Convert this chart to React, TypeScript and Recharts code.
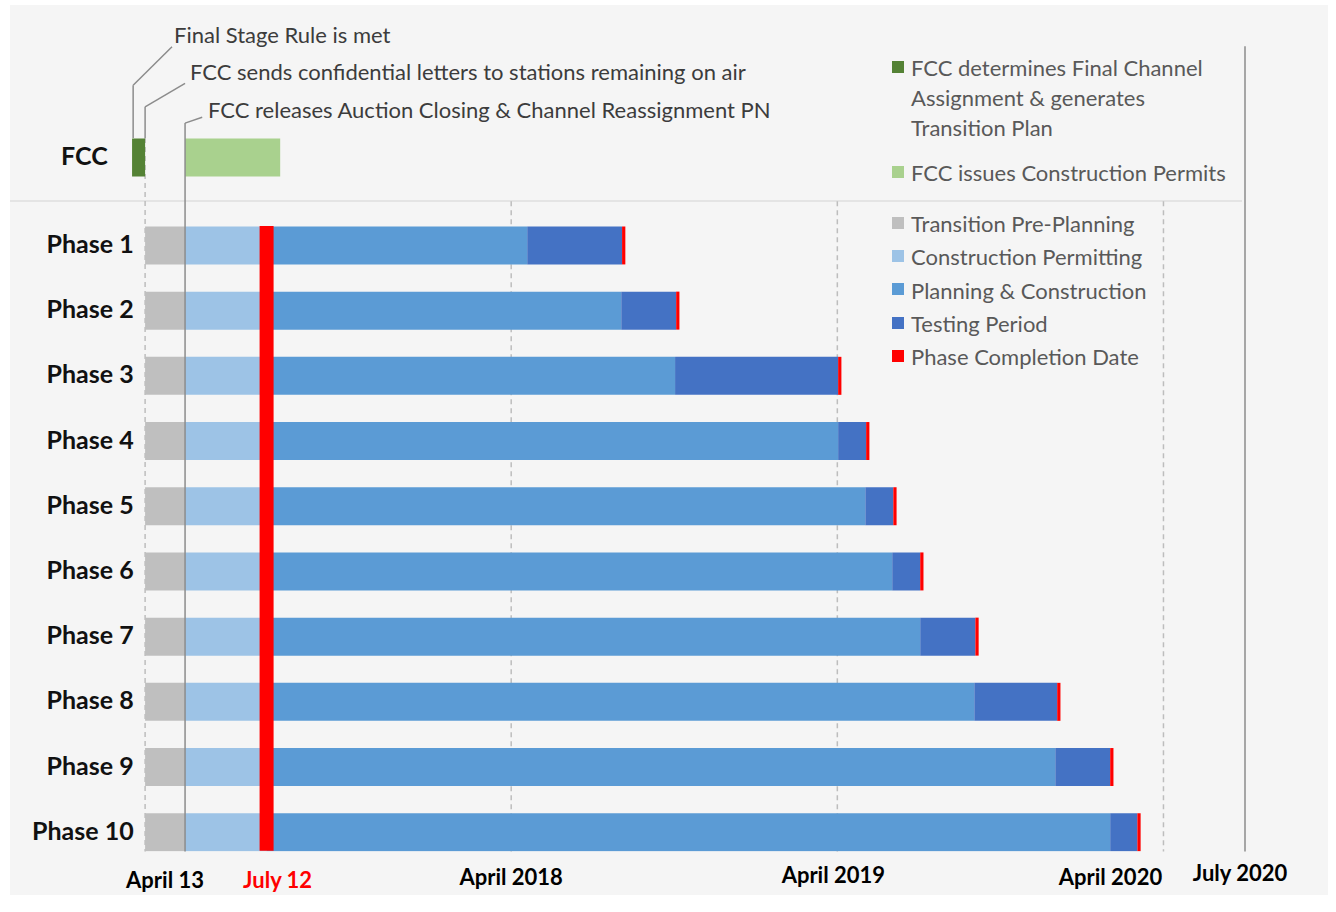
import React from "react";
import { Bar, BarChart, ReferenceLine, XAxis, YAxis } from "recharts";

// months counted from April 13, 2017
const rowLabels = ["FCC", "Phase 1", "Phase 2", "Phase 3", "Phase 4", "Phase 5", "Phase 6", "Phase 7", "Phase 8", "Phase 9", "Phase 10"];
const rowPositions = [-0.35, 1, 2, 3, 4, 5, 6, 7, 8, 9, 10];

const fccLead = [-1.47, 0, 0, 0, 0, 0, 0, 0, 0, 0, 0];
const fccFinalChannel = [-0.48, 0, 0, 0, 0, 0, 0, 0, 0, 0, 0];
const prePlanning = [0, -1.47, -1.47, -1.47, -1.47, -1.47, -1.47, -1.47, -1.47, -1.47, -1.47];
const fccPermits = [3.5, 0, 0, 0, 0, 0, 0, 0, 0, 0, 0];
const permitting = [0, 3, 3, 3, 3, 3, 3, 3, 3, 3, 3];
const planningEnd = [0, 12.59, 16.05, 18.03, 24.03, 25.03, 26.02, 27.05, 29.04, 32.02, 34.04];
const testingEnd = [0, 16.08, 18.07, 24.03, 25.06, 26.06, 27.05, 29.08, 32.09, 34.04, 35.04];
const completionMark = [0, 0.12, 0.12, 0.12, 0.12, 0.12, 0.12, 0.12, 0.12, 0.12, 0.12];

const tickValues = [0, 3, 12, 24, 36, 39];
const tickLabels = ["April 13", "July 12", "April 2018", "April 2019", "April 2020", "July 2020"];

const annotations = [
  "Final Stage Rule is met",
  "FCC sends confidential letters to stations remaining on air",
  "FCC releases Auction Closing & Channel Reassignment PN",
];

const series = [
  { key: "fccFinalChannel", name: "FCC determines Final Channel\nAssignment & generates\nTransition Plan", color: "#548235", group: "fcc" },
  { key: "fccPermits", name: "FCC issues Construction Permits", color: "#a9d18e", group: "fcc" },
  { key: "prePlanning", name: "Transition Pre-Planning", color: "#bfbfbf", group: "phase" },
  { key: "permitting", name: "Construction Permitting", color: "#9dc3e6", group: "phase" },
  { key: "planning", name: "Planning & Construction", color: "#5b9bd5", group: "phase" },
  { key: "testing", name: "Testing Period", color: "#4472c4", group: "phase" },
  { key: "completion", name: "Phase Completion Date", color: "#ff0000", group: "phase" },
];
const color = (k: string) => series.find((s) => s.key === k)!.color;
const label = (k: string) => series.find((s) => s.key === k)!.name;

const data = rowLabels.map((name, i) => ({
  name,
  row: rowPositions[i],
  fccLead: fccLead[i],
  fccFinalChannel: fccFinalChannel[i],
  prePlanning: prePlanning[i],
  fccPermits: fccPermits[i],
  permitting: permitting[i],
  planning: i === 0 ? 0 : planningEnd[i] - permitting[i],
  testing: i === 0 ? 0 : testingEnd[i] - planningEnd[i],
  completion: completionMark[i],
}));

const FONT = "Lato, 'Open Sans', sans-serif";
const tickNudge: Record<string, number> = { "April 13": -20, "July 12": 11, "April 2019": -4, "April 2020": -53, "July 2020": -5 };
const tickLift: Record<string, number> = { "April 13": 3, "July 12": 3, "April 2019": -2, "July 2020": -4 };

function XTick({ x, y, payload }: any) {
  const i = tickValues.indexOf(payload.value);
  const text = tickLabels[i];
  return (
    <text x={x + (tickNudge[text] ?? 0)} y={y + 26 + (tickLift[text] ?? 0)} textAnchor="middle" fontFamily={FONT} fontWeight={700} fontSize={22} fill={text === "July 12" ? "#ff0000" : "#000"}>
      {text}
    </text>
  );
}

function YTick({ x, y, payload }: any) {
  const i = rowPositions.indexOf(payload.value);
  const text = rowLabels[i];
  return (
    <text x={x + (text === "FCC" ? -15 : 11)} y={y} dy={8} textAnchor="end" fontFamily={FONT} fontWeight={700} fontSize={25} fill="#111">
      {text}
    </text>
  );
}

function LegendBox() {
  const row = (s: (typeof series)[number], lh: number, gap: number) => (
    <div key={s.key} style={{ display: "flex", alignItems: "flex-start", lineHeight: `${lh}px`, marginBottom: gap }}>
      <span style={{ width: 12, height: 12, background: s.color, marginTop: lh / 2 - 7, marginRight: 7, flexShrink: 0 }} />
      <span style={{ whiteSpace: "pre-line" }}>{s.name}</span>
    </div>
  );
  return (
    <div style={{ position: "absolute", left: 892, top: 53, fontFamily: FONT, fontSize: 22, color: "#595959" }}>
      <div>{series.filter((s) => s.group === "fcc").map((s) => row(s, 30, 15))}</div>
      <div style={{ marginTop: 19 }}>{series.filter((s) => s.group === "phase").map((s) => row(s, 33.3, 0))}</div>
    </div>
  );
}

export default function App() {
  return (
    <div style={{ position: "absolute", left: 0, top: 0, width: 1336, height: 912, background: "#fff", overflow: "hidden" }}>
      <div style={{ position: "absolute", left: 10, top: 5, width: 1318, height: 890, background: "#f5f5f5" }} />
      <div style={{ position: "absolute", left: 10, top: 200, width: 1232, height: 2, background: "#e4e4e4" }} />
      <div style={{ position: "absolute", left: 0, top: 0 }}>
        <BarChart
          width={1336}
          height={912}
          data={data}
          layout="vertical"
          stackOffset="sign"
          margin={{ top: 10.3, right: 91, left: 10.7, bottom: 20.6 }}
        >
          <XAxis type="number" domain={[-2, 39]} ticks={tickValues} tick={<XTick />} axisLine={false} tickLine={false} height={40} allowDataOverflow />
          <YAxis type="number" dataKey="row" domain={[-2.6, 10.3]} ticks={rowPositions} tick={<YTick />} axisLine={false} tickLine={false} width={120} allowDataOverflow interval={0} />
          {[12, 24, 36].map((v) => (
            <ReferenceLine key={v} segment={[{ x: v, y: 0.33 }, { x: v, y: 10.3 }]} stroke="#bdbdbd" strokeWidth={1.5} strokeDasharray="5 4" zIndex={100} />
          ))}
          <ReferenceLine segment={[{ x: -1.47, y: -0.64 }, { x: -1.47, y: 10.3 }]} stroke="#bdbdbd" strokeWidth={1.5} strokeDasharray="5 4" zIndex={100} />
          <Bar dataKey="fccLead" stackId="a" fill="transparent" legendType="none" barSize={38} isAnimationActive={false} />
          {["fccFinalChannel", "prePlanning", "fccPermits", "permitting", "planning", "testing", "completion"].map((k) => (
            <Bar key={k} dataKey={k} name={label(k)} stackId="a" fill={color(k)} barSize={38} isAnimationActive={false} />
          ))}
          {/* annotation leader lines */}
          <ReferenceLine segment={[{ x: -0.48, y: -2.04 }, { x: -1.91, y: -1.45 }]} stroke="#8c8c8c" strokeWidth={1.5} />
          <ReferenceLine segment={[{ x: -1.91, y: -1.45 }, { x: -1.91, y: -0.64 }]} stroke="#8c8c8c" strokeWidth={1.5} />
          <ReferenceLine segment={[{ x: 0, y: -1.48 }, { x: -1.47, y: -1.12 }]} stroke="#8c8c8c" strokeWidth={1.5} />
          <ReferenceLine segment={[{ x: -1.47, y: -1.12 }, { x: -1.47, y: -0.64 }]} stroke="#8c8c8c" strokeWidth={1.5} />
          <ReferenceLine segment={[{ x: 0.63, y: -0.96 }, { x: 0, y: -0.87 }]} stroke="#8c8c8c" strokeWidth={1.5} />
          <ReferenceLine segment={[{ x: 0, y: -0.87 }, { x: 0, y: 10.3 }]} stroke="#8c8c8c" strokeWidth={1.5} />
          <ReferenceLine segment={[{ x: 39, y: -2.05 }, { x: 39, y: 10.3 }]} stroke="#a6a6a6" strokeWidth={2} />
          <ReferenceLine segment={[{ x: 3, y: 0.71 }, { x: 3, y: 10.29 }]} stroke="#ff0000" strokeWidth={14} />
        </BarChart>
      </div>
      {annotations.map((t, i) => (
        <div key={t} style={{ position: "absolute", left: [174, 190, 208][i], top: [21, 58, 96][i], fontFamily: FONT, fontSize: 22, color: "#3c3c3c", whiteSpace: "nowrap" }}>
          {t}
        </div>
      ))}
      <LegendBox />
    </div>
  );
}
